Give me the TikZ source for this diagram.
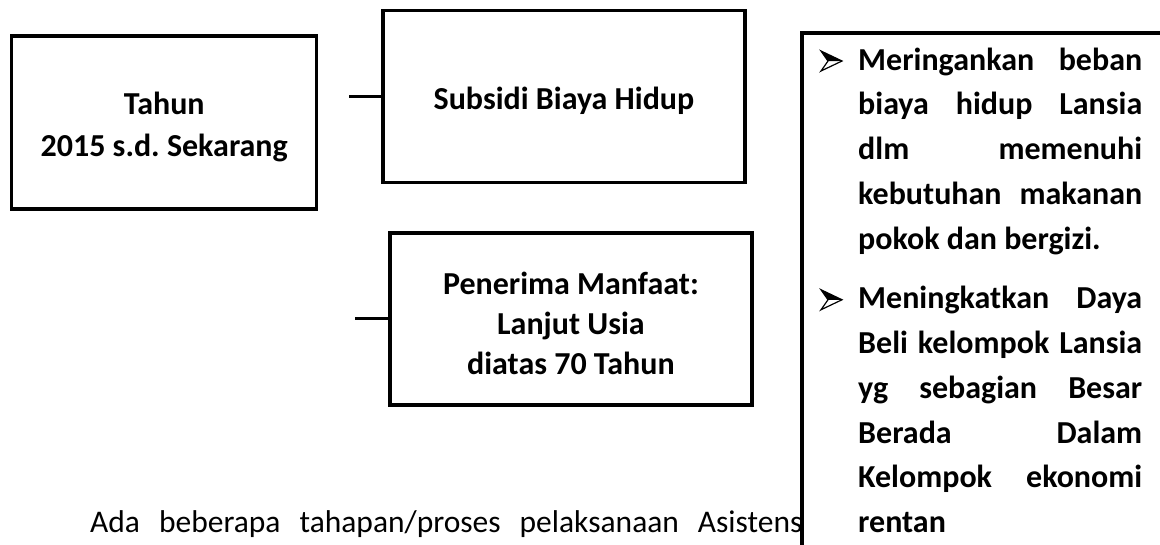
\documentclass[tikz,border=0pt]{standalone}
\usepackage{fontspec}
\setmainfont{Carlito}
\frenchspacing
\begin{document}
\begin{tikzpicture}[x=1pt,y=-1pt,
  box/.style={draw, line width=3.5pt, rectangle, inner sep=0pt},
  boxtext/.style={inner sep=0pt, align=center, yshift=-4pt,
    font=\bfseries\fontsize{32}{42}\selectfont},
  link/.style={line width=3pt},
  bul/.style={line width=1.2pt, line join=miter}]
\useasboundingbox (0,0) rectangle (1160,544);
\clip (0,0) rectangle (1160,544);
% left boxes
\node[box, minimum width=305pt, minimum height=173pt] (tahun) at (164.2,122.5) {};
\node[boxtext] (tahunT) at (tahun.center) {Tahun\\2015 s.d. Sekarang};
\node[box, minimum width=362pt, minimum height=172pt] (subsidi) at (563.9,96.7) {};
\node[boxtext] (subsidiT) at (subsidi.center) {Subsidi Biaya Hidup};
\node[box, minimum width=362pt, minimum height=172pt] (penerima) at (570.9,318.9) {};
\node[boxtext, font=\bfseries\fontsize{32}{40}\selectfont] (penerimaT) at (penerima.center) {Penerima Manfaat:\\Lanjut Usia\\diatas 70 Tahun};
\coordinate (c1) at (349,96.7);
\coordinate (c2) at (355,318.9);
\draw[link] (c1) -- (subsidi.west);
\draw[link] (c2) -- (penerima.west);
% bottom text (covered by the right box)
\node[anchor=base west, inner sep=0pt, font=\fontsize{31.5}{38}\selectfont] (ada) at (90,532)
  {\spaceskip=19pt Ada beberapa tahapan/proses pelaksanaan Asistensi};
% right box
\node[draw, line width=4pt, fill=white, anchor=north west, minimum width=420pt, minimum height=560pt, inner sep=0pt] (tujuan) at (800,31) {};
\node[anchor=base west, inner sep=0pt] (list) at (858,70) {\vtop{\hsize=284pt
  \bfseries\fontsize{32}{44.75}\selectfont
  \hbox to\hsize{Meringankan \hfill beban}
  \hbox to\hsize{biaya \hfill hidup \hfill Lansia}
  \hbox to\hsize{dlm \hfill memenuhi}
  \hbox to\hsize{kebutuhan \hfill makanan}
  \hbox{pokok dan bergizi.}
  \vskip 15pt
  \hbox to\hsize{Meningkatkan \hfill Daya}
  \hbox to\hsize{Beli \hfill kelompok \hfill Lansia}
  \hbox to\hsize{yg \hfill sebagian \hfill Besar}
  \hbox to\hsize{Berada \hfill Dalam}
  \hbox to\hsize{Kelompok \hfill ekonomi}
  \hbox{rentan}}};
% bullets
\fill (821,51) -- (842,61) -- (828,61) -- cycle;
\draw[bul] (821,51) -- (842,61) -- (821,71) -- (828,61) -- cycle;
\fill (821,289.75) -- (842,299.75) -- (828,299.75) -- cycle;
\draw[bul] (821,289.75) -- (842,299.75) -- (821,309.75) -- (828,299.75) -- cycle;
\end{tikzpicture}
\end{document}
